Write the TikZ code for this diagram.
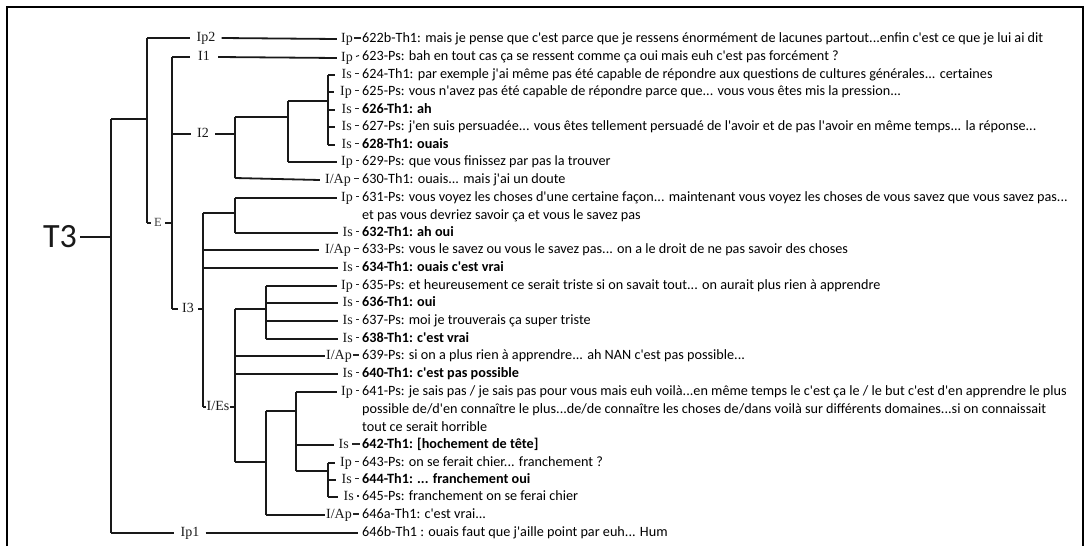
\documentclass[tikz,border=0pt]{standalone}
\usepackage{fontspec}
\newfontfamily\txtf{Carlito}
\newfontfamily\labf{Liberation Serif}
\begin{document}
\begin{tikzpicture}[x=1pt,y=-1pt,
  tl/.style={line width=1.8pt,draw=black!90},
  tk/.style={line width=1.1pt,draw=black!85},
  lab/.style={font=\labf\fontsize{14}{14}\selectfont,inner sep=0pt,text height=9pt,text depth=3pt,anchor=east,text=black!90},
  top/.style={font=\labf\fontsize{14}{14}\selectfont,inner sep=0pt,text height=9pt,text depth=3pt,anchor=center,text=black!90},
  tx/.style={font=\txtf\fontsize{14.2}{14.2}\selectfont,inner sep=0pt,text height=10pt,text depth=3pt,anchor=west,text=black},
  bx/.style={tx,font=\txtf\bfseries\fontsize{14.2}{14.2}\selectfont}]
\useasboundingbox (0,0) rectangle (1086,546);
\draw[line width=1.3pt] (7,546) -- (7,7) -- (1083,7) -- (1083,546);

% root
\node[font=\txtf\fontsize{34}{34}\selectfont,inner sep=0pt,text=black!90] (T3) at (60,237) {T3};

% top-level labels
\node[top] (Ip2) at (206,38) {Ip2};
\node[top] (I1) at (204,57) {I1};
\node[top] (I2) at (203,134) {I2};
\node[top,font=\labf\fontsize{12.5}{12.5}\selectfont,text=black!75] (E) at (158,223) {E};
\node[top] (I3) at (188,309) {I3};
\node[top] (IEs) at (218,407) {I/Es};
\node[top] (Ip1) at (190,533) {Ip1};

% row labels
\node[lab] (l622) at (353,39) {Ip};
\node[lab] (l623) at (353,58) {Ip};
\node[lab] (l624) at (352,75) {Is};
\node[lab] (l625) at (352,92) {Ip};
\node[lab] (l626) at (352,110) {Is};
\node[lab] (l627) at (352,127) {Is};
\node[lab] (l628) at (352,145) {Is};
\node[lab] (l629) at (353,162) {Ip};
\node[lab] (l630) at (351,180) {I/Ap};
\node[lab] (l631) at (353,198) {Ip};
\node[lab] (l632) at (353,233) {Is};
\node[lab] (l633) at (351,250) {I/Ap};
\node[lab] (l634) at (353,268) {Is};
\node[lab] (l635) at (353,286) {Ip};
\node[lab] (l636) at (353,303) {Is};
\node[lab] (l637) at (353,321) {Is};
\node[lab] (l638) at (353,339) {Is};
\node[lab] (l639) at (352,356) {I/Ap};
\node[lab] (l640) at (353,374) {Is};
\node[lab] (l641) at (353,392) {Ip};
\node[lab] (l642) at (349,445) {Is};
\node[lab] (l643) at (352,463) {Ip};
\node[lab] (l644) at (352,480) {Is};
\node[lab] (l645) at (354,497) {Is};
\node[lab] (l646a) at (352,515) {I/Ap};

% texts
\node[tx] (t622) at (362,39) {622b-Th1: mais je pense que c'est parce que je ressens énormément de lacunes partout...enfin c'est ce que je lui ai dit};
\node[tx] (t623) at (362,57) {623-Ps: bah en tout cas ça se ressent comme ça oui mais euh c'est pas forcément ?};
\node[tx] (t624) at (362,75) {624-Th1: par exemple j'ai même pas été capable de répondre aux questions de cultures générales... certaines};
\node[tx] (t625) at (362,92) {625-Ps: vous n'avez pas été capable de répondre parce que... vous vous êtes mis la pression...};
\node[bx] (t626) at (362,110) {626-Th1: ah};
\node[tx] (t627) at (362,127) {627-Ps: j'en suis persuadée... vous êtes tellement persuadé de l'avoir et de pas l'avoir en même temps... la réponse...};
\node[bx] (t628) at (362,145) {628-Th1: ouais};
\node[tx] (t629) at (362,162) {629-Ps: que vous finissez par pas la trouver};
\node[tx] (t630) at (362,180) {630-Th1: ouais... mais j'ai un doute};
\node[tx] (t631) at (362,198) {631-Ps: vous voyez les choses d'une certaine façon... maintenant vous voyez les choses de vous savez que vous savez pas...};
\node[tx] (t631b) at (362,216) {et pas vous devriez savoir ça et vous le savez pas};
\node[bx] (t632) at (362,233) {632-Th1: ah oui};
\node[tx] (t633) at (362,250) {633-Ps: vous le savez ou vous le savez pas... on a le droit de ne pas savoir des choses};
\node[bx] (t634) at (362,268) {634-Th1: ouais c'est vrai};
\node[tx] (t635) at (362,286) {635-Ps: et heureusement ce serait triste si on savait tout... on aurait plus rien à apprendre};
\node[bx] (t636) at (362,303) {636-Th1: oui};
\node[tx] (t637) at (362,321) {637-Ps: moi je trouverais ça super triste};
\node[bx] (t638) at (362,339) {638-Th1: c'est vrai};
\node[tx] (t639) at (362,356) {639-Ps: si on a plus rien à apprendre... ah NAN c'est pas possible...};
\node[bx] (t640) at (362,374) {640-Th1: c'est pas possible};
\node[tx] (t641) at (362,392) {641-Ps: je sais pas / je sais pas pour vous mais euh voilà...en même temps le c'est ça le / le but c'est d'en apprendre le plus};
\node[tx] (t641b) at (362,410) {possible de/d'en connaître le plus...de/de connaître les choses de/dans voilà sur différents domaines...si on connaissait};
\node[tx] (t641c) at (362,428) {tout ce serait horrible};
\node[bx] (t642) at (362,445) {642-Th1: [hochement de tête]};
\node[tx] (t643) at (362,463) {643-Ps: on se ferait chier... franchement ?};
\node[bx] (t644) at (362,480) {644-Th1: ... franchement oui};
\node[tx] (t645) at (362,497) {645-Ps: franchement on se ferai chier};
\node[tx] (t646a) at (362,515) {646a-Th1: c'est vrai...};
\node[tx] (t646b) at (362,533) {646b-Th1 : ouais faut que j'aille point par euh... Hum};

% junction coordinates
\coordinate (a1) at (111,119);
\coordinate (a2) at (111,533);
\coordinate (b1) at (147,38);
\coordinate (b2) at (147,223);
\coordinate (c1) at (172,57);
\coordinate (c2) at (172,309);
\coordinate (d1) at (235,117);
\coordinate (d2) at (235,178);
\coordinate (e1) at (288,101);
\coordinate (e2) at (288,162);
\coordinate (f1) at (328,75);
\coordinate (f2) at (328,145);
\coordinate (g1) at (203,213);
\coordinate (g2) at (203,407);
\coordinate (h1) at (235,198);
\coordinate (h2) at (235,233);
\coordinate (k1) at (235,309);
\coordinate (k2) at (235,462);
\coordinate (m1) at (266,286);
\coordinate (m2) at (266,339);
\coordinate (n1) at (266,411);
\coordinate (n2) at (266,515);
\coordinate (p1) at (296,392);
\coordinate (p2) at (296,471);
\coordinate (q1) at (328,463);
\coordinate (q2) at (328,497);

% tree
\draw[tl,shorten <=3pt] (T3.east) -- (111,237);
\draw[tl] (a1) -- (a2);
\draw[tl] (a1) -- (147,119);
\draw[tl] (b1) -- (b2);
\draw[tl] (b1) -- ([xshift=-6pt]Ip2.west);
\draw[tl] ([xshift=6pt]Ip2.east) -- ([xshift=-4pt]l622.west);
\draw[tl] (b2) -- ([xshift=-3pt]E.west);
\draw[tl] ([xshift=3pt]E.east) -- (172,223);
\draw[tl] (c1) -- (c2);
\draw[tl] (c1) -- ([xshift=-8pt]I1.west);
\draw[tl] ([xshift=8pt]I1.east) -- ([xshift=-4pt]l623.west);
\draw[tl] (172,134) -- ([xshift=-6pt]I2.west);
\draw[tl] ([xshift=6pt]I2.east) -- (235,134);
\draw[tl] (d1) -- (d2);
\draw[tl] (d1) -- (288,117);
\draw[tl] (d2) -- ([xshift=-5pt]l630.west);
\draw[tl] (e1) -- (e2);
\draw[tl] (e1) -- (328,101);
\draw[tl] (e2) -- ([xshift=-4pt]l629.west);
\draw[tl] (f1) -- (f2);
\foreach \r in {l624,l625,l626,l627,l628}
  \draw[tl] (f1 |- \r.west) -- ([xshift=-6pt]\r.west);
% I3 branch
\draw[tl] (c2) -- ([xshift=-4pt]I3.west);
\draw[tl] ([xshift=4pt]I3.east) -- (203,309);
\draw[tl] (g1) -- (g2);
\draw[tl] (g2) -- ([xshift=-1pt]IEs.west);
\draw[tl] ([xshift=1pt]IEs.east) -- (235,407);
\draw[tl] (g1) -- (235,213);
\draw[tl] (h1) -- (h2);
\draw[tl] (h1) -- ([xshift=-4pt]l631.west);
\draw[tl] (h2) -- ([xshift=-4pt]l632.west);
\draw[tl] (g1 |- l633.west) -- ([xshift=-6pt]l633.west);
\draw[tl] (g1 |- l634.west) -- ([xshift=-4pt]l634.west);
\draw[tl] (k1) -- (k2);
\draw[tl] (k1) -- (266,309);
\draw[tl] (m1) -- (m2);
\foreach \r in {l635,l636,l637,l638}
  \draw[tl] (m1 |- \r.west) -- ([xshift=-4pt]\r.west);
\draw[tl] (k1 |- l639.west) -- ([xshift=-1pt]l639.west);
\draw[tl] (k1 |- l640.west) -- ([xshift=-4pt]l640.west);
\draw[tl] (k2) -- (266,462);
\draw[tl] (n1) -- (n2);
\draw[tl] (n1) -- (296,411);
\draw[tl] (n2) -- ([xshift=-1pt]l646a.west);
\draw[tl] (p1) -- (p2);
\draw[tl] (p1) -- ([xshift=-4pt]l641.west);
\draw[tl] (p1 |- l642.west) -- ([xshift=-4pt]l642.west);
\draw[tl] (p2) -- (328,471);
\draw[tl] (q1) -- (q2);
\foreach \r in {l643,l644,l645}
  \draw[tl] (q1 |- \r.west) -- ([xshift=-5pt]\r.west);
\draw[tl] (a2) -- ([xshift=-6pt]Ip1.west);
\draw[tl] ([xshift=6pt]Ip1.east) -- ([xshift=-4pt]t646b.west);

% ticks between label and text
\draw[tk] ([xshift=1pt,yshift=1pt]l622.east) -- ([xshift=-1pt,yshift=1pt]t622.west);
\foreach \n in {623,624,625,626,627,628,629,630,631,632,633,634,635,636,637,638,640,641,643,644}
  \draw[tk] ([xshift=3pt,yshift=1.5pt]l\n.east) -- ([xshift=-3pt,yshift=1.5pt]t\n.west);
\draw[tk] ([xshift=1pt,yshift=1pt]l639.east) -- ([xshift=-3pt,yshift=1pt]t639.west);
\draw[tk] ([xshift=1pt,yshift=1pt]l646a.east) -- ([xshift=-3pt,yshift=1pt]t646a.west);
\draw[tk] ([xshift=3pt,yshift=1pt]l642.east) -- ([xshift=-2pt,yshift=1pt]t642.west);
\draw[tk] ([xshift=3pt,yshift=1pt]l645.east) -- ([xshift=-3pt,yshift=1pt]t645.west);
\end{tikzpicture}
\end{document}
